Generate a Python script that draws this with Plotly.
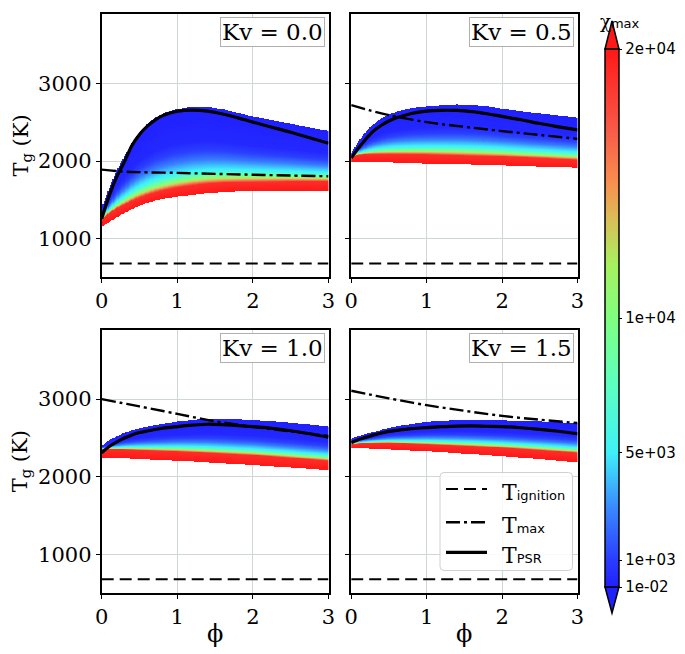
import numpy as np
import plotly.graph_objects as go

W, H = 685, 654          # browser window
OFF = 8                  # default page margin around the plot div
FW, FH = W - OFF, H - OFF

# ---------------- data ----------------
kv_labels = ["Kv = 0.0", "Kv = 0.5", "Kv = 1.0", "Kv = 1.5"]

# T_ignition (same in every panel)
phi_ign = [0.0, 3.0]
T_ign = [685, 685]

# T_max (dash-dot)
phi_max = [0.0, 0.25, 0.5, 1.0, 1.5, 2.0, 2.5, 3.0]
T_max_0 = [1890, 1868, 1858, 1848, 1836, 1825, 1814, 1805]
T_max_1 = [2718, 2650, 2590, 2500, 2440, 2385, 2335, 2285]
T_max_2 = [3000, 2953, 2906, 2810, 2715, 2645, 2585, 2525]
T_max_3 = [3107, 3058, 3010, 2922, 2850, 2784, 2735, 2692]

# T_PSR (solid)
phi_psr = [0.0, 0.1, 0.2, 0.3, 0.4, 0.5, 0.6, 0.8, 1.0, 1.2, 1.4, 1.6, 1.8, 2.0, 2.25, 2.5, 2.75, 3.0]
T_psr_0 = [1260, 1560, 1800, 1990, 2200, 2340, 2445, 2580, 2640, 2655, 2642, 2605, 2555, 2500, 2435, 2370, 2300, 2228]
T_psr_1 = [2040, 2170, 2290, 2390, 2460, 2515, 2555, 2610, 2641, 2652, 2650, 2635, 2608, 2573, 2530, 2482, 2440, 2400]
T_psr_2 = [2310, 2390, 2450, 2500, 2540, 2570, 2590, 2625, 2647, 2665, 2677, 2672, 2660, 2647, 2625, 2593, 2555, 2510]
T_psr_3 = [2440, 2480, 2510, 2540, 2565, 2585, 2598, 2620, 2634, 2645, 2653, 2655, 2651, 2647, 2632, 2612, 2587, 2556]

# flamelet band: upper edge, start of the red strip, lower edge
phi_band = [0.0, 0.1, 0.2, 0.3, 0.4, 0.5, 0.6, 0.7, 0.8, 0.9, 1.0, 1.2, 1.4, 1.6, 1.8, 2.0, 2.25, 2.5, 2.75, 3.0]
band_top_0 = [1400, 1650, 1880, 2060, 2230, 2370, 2470, 2550, 2605, 2642, 2668, 2698, 2697, 2665, 2618, 2573, 2525, 2480, 2430, 2385]
band_red_0 = [1250, 1330, 1390, 1440, 1490, 1530, 1565, 1595, 1620, 1642, 1660, 1690, 1710, 1722, 1728, 1731, 1735, 1738, 1738, 1738]
band_bot_0 = [1150, 1220, 1275, 1330, 1380, 1425, 1460, 1488, 1510, 1527, 1540, 1565, 1585, 1600, 1610, 1615, 1617, 1618, 1617, 1615]

band_top_1 = [2100, 2260, 2380, 2480, 2550, 2600, 2635, 2660, 2680, 2692, 2701, 2718, 2727, 2722, 2705, 2672, 2640, 2610, 2585, 2556]
band_red_1 = [2060, 2080, 2088, 2090, 2090, 2090, 2089, 2088, 2087, 2086, 2085, 2080, 2075, 2070, 2065, 2060, 2050, 2040, 2028, 2017]
band_bot_1 = [1990, 1989, 1988, 1987, 1986, 1985, 1982, 1978, 1974, 1970, 1966, 1963, 1960, 1956, 1950, 1945, 1938, 1930, 1922, 1915]

band_top_2 = [2400, 2470, 2520, 2565, 2597, 2625, 2645, 2663, 2680, 2696, 2711, 2733, 2748, 2748, 2740, 2733, 2715, 2695, 2672, 2647]
band_red_2 = [2354, 2352, 2350, 2348, 2345, 2340, 2337, 2334, 2330, 2327, 2324, 2315, 2305, 2295, 2285, 2276, 2258, 2240, 2222, 2203]
band_bot_2 = [2246, 2242, 2238, 2234, 2230, 2225, 2221, 2217, 2212, 2208, 2203, 2193, 2182, 2170, 2159, 2147, 2131, 2115, 2099, 2082]

band_top_3 = [2492, 2525, 2555, 2580, 2605, 2630, 2650, 2666, 2680, 2694, 2707, 2722, 2731, 2733, 2731, 2728, 2720, 2712, 2702, 2690]
band_red_3 = [2420, 2428, 2433, 2437, 2438, 2438, 2434, 2430, 2426, 2422, 2418, 2410, 2402, 2394, 2385, 2376, 2361, 2345, 2328, 2311]
band_bot_3 = [2376, 2372, 2368, 2363, 2359, 2355, 2350, 2346, 2341, 2337, 2332, 2320, 2307, 2294, 2280, 2267, 2249, 2230, 2210, 2190]

# chi_max profile across the non-red part of the band (0 = upper edge, 1 = red start)
band_frac = [0.0, 0.45, 0.58, 0.68, 0.76, 0.83, 0.88, 0.93, 0.965, 1.0]
band_chi = [10, 300, 1200, 2500, 4000, 5200, 7500, 11000, 14500, 18500]
red_chi = [19000, 20000]

# colour bar
cb_tickvals = [0.01, 1000, 5000, 10000, 20000]
cb_ticktext = ["1e-02", "1e+03", "5e+03", "1e+04", "2e+04"]

# axes ticks
x_ticks = [0, 1, 2, 3]
y_ticks = [1000, 2000, 3000]
# ------------------------------------------------------------

panels = [
    dict(tmax=T_max_0, psr=T_psr_0, top=band_top_0, red=band_red_0, bot=band_bot_0),
    dict(tmax=T_max_1, psr=T_psr_1, top=band_top_1, red=band_red_1, bot=band_bot_1),
    dict(tmax=T_max_2, psr=T_psr_2, top=band_top_2, red=band_red_2, bot=band_bot_2),
    dict(tmax=T_max_3, psr=T_psr_3, top=band_top_3, red=band_red_3, bot=band_bot_3),
]

colorscale = [
    [0.00, "#2020ff"],
    [0.05, "#2a3cff"],
    [0.15, "#3a8cff"],
    [0.25, "#40f0f8"],
    [0.375, "#5cffc0"],
    [0.50, "#80ff80"],
    [0.60, "#a8f060"],
    [0.68, "#d8c058"],
    [0.75, "#f89050"],
    [0.85, "#f85a48"],
    [1.00, "#ff1818"],
]

# window pixel -> paper fraction
def px(x):
    return (x - OFF) / FW

def py(y):
    return 1 - (y - OFF) / FH

xdom = [[px(101.7), px(328.5)], [px(351.2), px(577.5)]]
ydom = [[py(277), py(14)], [py(592.7), py(330)]]
YR = [512, 3888]

SERIF = "DejaVu Serif"
SANS = "DejaVu Sans"

fig = go.Figure()

for i, p in enumerate(panels):
    ax = "" if i == 0 else str(i + 1)
    xref, yref = "x" + ax, "y" + ax
    # band heat map
    phig = np.linspace(0, 3, 181)
    top = np.interp(phig, phi_band, p["top"])
    red = np.interp(phig, phi_band, p["red"])
    bot = np.interp(phig, phi_band, p["bot"])
    Tg = np.arange(np.min(bot) - 10, np.max(top) + 10, 3.0)
    TT, _ = np.meshgrid(Tg, phig, indexing="ij")
    TOP = np.broadcast_to(top, TT.shape)
    RED = np.broadcast_to(red, TT.shape)
    BOT = np.broadcast_to(bot, TT.shape)
    g_up = (TOP - TT) / np.maximum(TOP - RED, 1e-6)
    g_lo = (RED - TT) / np.maximum(RED - BOT, 1e-6)
    z = np.where(TT >= RED, np.interp(g_up, band_frac, band_chi),
                 np.interp(g_lo, [0, 1], red_chi))
    z = np.where((TT > TOP) | (TT < BOT), np.nan, z)
    fig.add_trace(go.Heatmap(x=phig, y=Tg, z=z, coloraxis="coloraxis",
                             xaxis=xref, yaxis=yref, hoverinfo="skip"))
    fig.add_trace(go.Scatter(x=phi_ign, y=T_ign, mode="lines", xaxis=xref, yaxis=yref,
                             line=dict(color="black", width=2, dash="12px,6px"),
                             showlegend=False, name="T ignition"))
    fig.add_trace(go.Scatter(x=phi_max, y=p["tmax"], mode="lines", xaxis=xref, yaxis=yref,
                             line=dict(color="black", width=2.4, dash="14px,4px,3px,4px", shape="spline"),
                             showlegend=False, name="T max"))
    fig.add_trace(go.Scatter(x=phi_psr, y=p["psr"], mode="lines", xaxis=xref, yaxis=yref,
                             line=dict(color="black", width=3.2, shape="spline"),
                             showlegend=False, name="T PSR"))

layout = dict(
    width=FW, height=FH,
    margin=dict(l=0, r=0, t=0, b=0, pad=0, autoexpand=False),
    paper_bgcolor="white", plot_bgcolor="white",
    showlegend=False,
    font=dict(family=SERIF, size=20, color="black"),
    coloraxis=dict(
        colorscale=colorscale, cmin=0.01, cmax=20000,
        colorbar=dict(
            x=px(605), xanchor="left", y=py(318), yanchor="middle",
            len=(587 - 49) / FH, lenmode="fraction",
            thickness=14, thicknessmode="pixels",
            outlinewidth=1.5, outlinecolor="black",
            xpad=0, ypad=0,
            tickvals=cb_tickvals, ticktext=cb_ticktext,
            ticks="outside", ticklen=3, tickwidth=1, tickcolor="black",
            tickfont=dict(family=SANS, size=15, color="black"),
        ),
    ),
)

axis_common = dict(
    showline=True, linecolor="black", linewidth=2, mirror=True,
    showgrid=True, gridcolor="#cfd6d6", gridwidth=1,
    ticks="outside", ticklen=4, tickwidth=1.2, tickcolor="black",
    zeroline=False, automargin=False,
    tickfont=dict(family=SERIF, size=21, color="black"),
)

for i in range(4):
    r, c = divmod(i, 2)
    ax = "" if i == 0 else str(i + 1)
    layout["xaxis" + ax] = dict(axis_common, domain=xdom[c], range=[0, 3],
                                tickvals=x_ticks, anchor="y" + ax)
    layout["yaxis" + ax] = dict(axis_common, domain=ydom[r], range=YR,
                                tickvals=y_ticks, anchor="x" + ax,
                                showticklabels=(c == 0))

fig.update_layout(**layout)

annotations = []
shapes = []
# Kv boxes
for i in range(4):
    ax = "" if i == 0 else str(i + 1)
    annotations.append(dict(
        text=kv_labels[i], xref="x" + ax + " domain", yref="y" + ax + " domain",
        x=1, y=1, xanchor="right", yanchor="top", xshift=-4, yshift=-3,
        showarrow=False, bgcolor="white", bordercolor="#b0b0b0", borderwidth=1,
        borderpad=1, font=dict(family=SERIF, size=23, color="black")))

# axis titles
for yc in [(14 + 277) / 2, (330 + 592.7) / 2]:
    annotations.append(dict(text="T<sub>g</sub> (K)", xref="paper", yref="paper",
                            x=px(21), y=py(yc), textangle=-90, showarrow=False,
                            xanchor="center", yanchor="middle",
                            font=dict(family=SERIF, size=21, color="black")))
for xc in [(101.7 + 328.5) / 2, (351.2 + 577.5) / 2]:
    annotations.append(dict(text="ϕ", xref="paper", yref="paper",
                            x=px(xc), y=py(634), showarrow=False,
                            xanchor="center", yanchor="middle",
                            font=dict(family=SERIF, size=24, color="black")))

# colour bar title
annotations.append(dict(text="χ<span style='font-family:DejaVu Sans;font-size:13px'>max</span>",
                        xref="paper", yref="paper", x=px(598), y=py(9),
                        xanchor="left", yanchor="top", showarrow=False,
                        font=dict(family=SERIF, size=18, color="black")))

# colour bar extension arrows
shapes.append(dict(type="path", xref="paper", yref="paper",
                   path=f"M {px(605)},{py(49)} L {px(612)},{py(21)} L {px(619)},{py(49)} Z",
                   fillcolor="#ff1818", line=dict(color="black", width=1.5)))
shapes.append(dict(type="path", xref="paper", yref="paper",
                   path=f"M {px(605)},{py(587)} L {px(612)},{py(613)} L {px(619)},{py(587)} Z",
                   fillcolor="#2020ff", line=dict(color="black", width=1.5)))

# legend (drawn in bottom-right panel)
lx0, lx1, ly0, ly1 = 440, 572.5, 472.5, 570.5
rr = 4
path = (f"M {px(lx0 + rr)},{py(ly0)} L {px(lx1 - rr)},{py(ly0)} Q {px(lx1)},{py(ly0)} {px(lx1)},{py(ly0 + rr)} "
        f"L {px(lx1)},{py(ly1 - rr)} Q {px(lx1)},{py(ly1)} {px(lx1 - rr)},{py(ly1)} "
        f"L {px(lx0 + rr)},{py(ly1)} Q {px(lx0)},{py(ly1)} {px(lx0)},{py(ly1 - rr)} "
        f"L {px(lx0)},{py(ly0 + rr)} Q {px(lx0)},{py(ly0)} {px(lx0 + rr)},{py(ly0)} Z")
shapes.append(dict(type="path", xref="paper", yref="paper", path=path,
                   fillcolor="rgba(255,255,255,0.85)", line=dict(color="#d0d0d0", width=1)))
leg_items = [
    (489, dict(color="black", width=2, dash="12px,6px"), "ignition"),
    (522.3, dict(color="black", width=2.4, dash="14px,4px,3px,4px"), "max"),
    (552.3, dict(color="black", width=3.2), "PSR"),
]
for yy, ln, sub in leg_items:
    shapes.append(dict(type="line", xref="paper", yref="paper",
                       x0=px(446), x1=px(487), y0=py(yy), y1=py(yy), line=ln))
    annotations.append(dict(
        text=f"T<span style='font-family:DejaVu Sans;font-size:13px'>{sub}</span>",
        xref="paper", yref="paper", x=px(500), y=py(yy + 3), xanchor="left", yanchor="middle",
        showarrow=False, font=dict(family=SERIF, size=22, color="black")))

fig.update_layout(annotations=annotations, shapes=shapes)
fig.write_html("out.html")
